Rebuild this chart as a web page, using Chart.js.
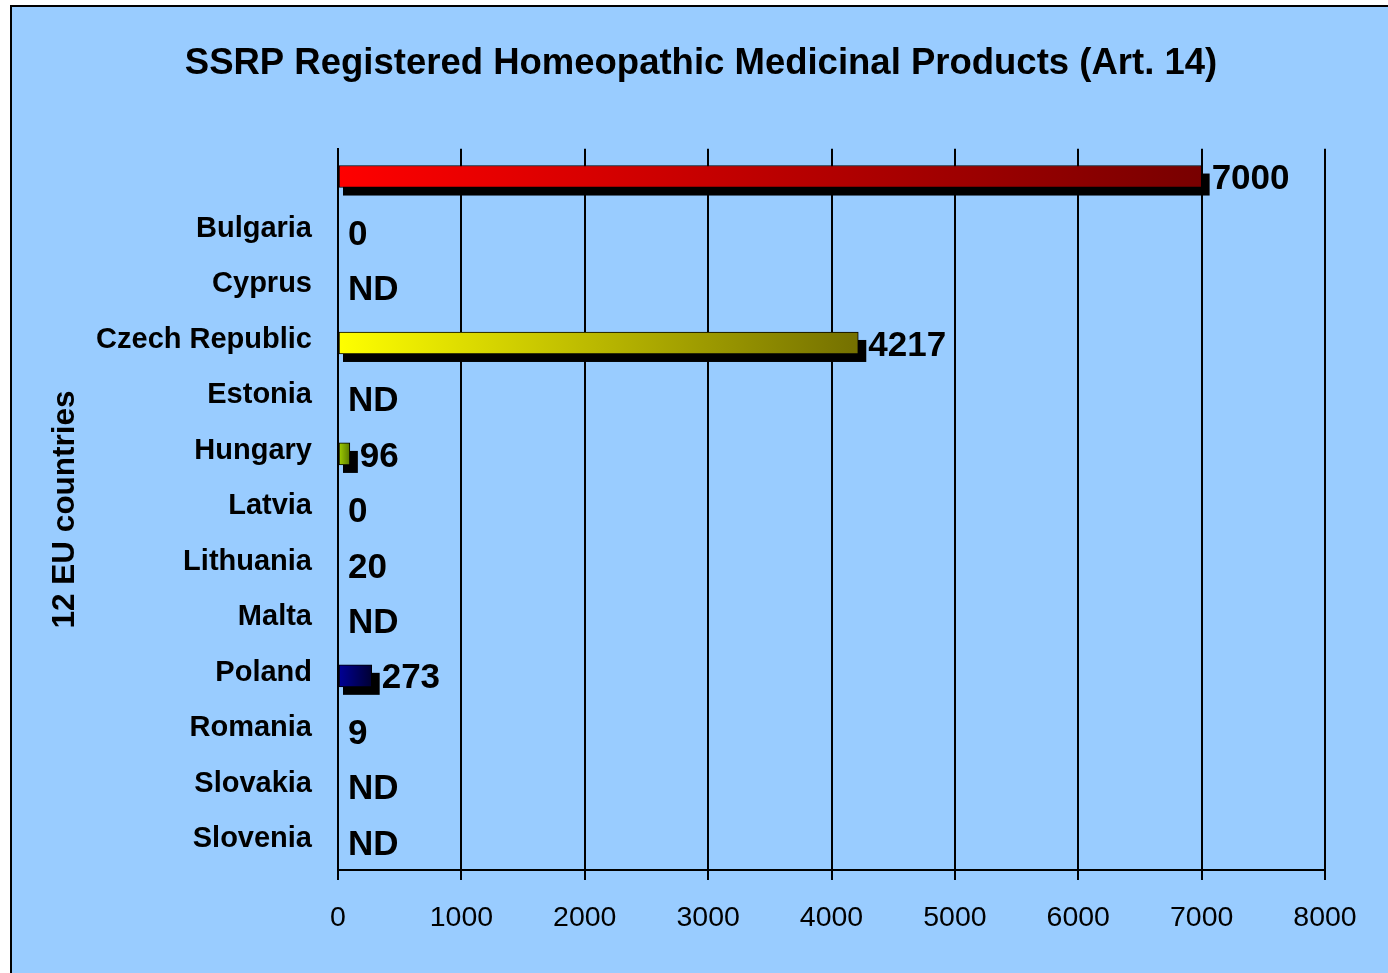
<!DOCTYPE html>
<html lang="en">
<head>
<meta charset="UTF-8">
<title>SSRP Registered Homeopathic Medicinal Products</title>
<script src="https://cdn.jsdelivr.net/npm/chart.js"></script>
<style>
  body { margin: 0; background: #fff; overflow: hidden; }
  /* panel with the black frame, runs past the window on the right and bottom */
  .frame {
    position: absolute;
    left: 10px;
    top: 5px;
    width: 1420px;
    height: 1010px;
    border: 2px solid #000;
    background: #99CCFF;
  }
  .wrap {
    position: absolute;
    left: 0;
    top: 0;
    width: 1388px;
    height: 973px;
  }
</style>
</head>
<body>
<div class="frame"></div>
<div class="wrap">
  <canvas id="chart"></canvas>
</div>
<script>
// data
const categories = ['', 'Bulgaria', 'Cyprus', 'Czech Republic', 'Estonia', 'Hungary', 'Latvia',
                    'Lithuania', 'Malta', 'Poland', 'Romania', 'Slovakia', 'Slovenia'];
const values = [7000, 0, null, 4217, null, 96, 0, 20, null, 273, 9, null, null];
const valueLabels = ['7000', '0', 'ND', '4217', 'ND', '96', '0', '20', 'ND', '273', '9', 'ND', 'ND'];
const xTickLabels = ['0', '1000', '2000', '3000', '4000', '5000', '6000', '7000', '8000'];

// gradient start/end per row, null = no coloured bar in the picture
const barColors = [
  ['#FF0000', '#780000'], null, null, ['#FFFF00', '#747000'], null, ['#A6D600', '#5A7A00'],
  null, null, null, ['#000099', '#000033'], null, null, null
];

const font = "'Liberation Sans', Arial, sans-serif";

function barGradient(ctx) {
  const c = barColors[ctx.dataIndex];
  if (!c) return 'rgba(0,0,0,0)';
  const chart = ctx.chart;
  const xs = chart.scales.x;
  if (!chart.chartArea || !xs) return c[0];
  const x0 = xs.getPixelForValue(0);
  const x1 = xs.getPixelForValue(values[ctx.dataIndex]);
  const g = chart.ctx.createLinearGradient(x0, 0, x1, 0);
  g.addColorStop(0, c[0]);
  g.addColorStop(1, c[1]);
  return g;
}

// black 3d-ish shadow behind each coloured bar
const shadowPlugin = {
  id: 'barShadow',
  beforeDatasetsDraw(chart) {
    const ctx = chart.ctx;
    const meta = chart.getDatasetMeta(0);
    ctx.save();
    ctx.fillStyle = '#000';
    meta.data.forEach((bar, i) => {
      if (!barColors[i] || values[i] == null) return;
      const p = bar.getProps(['x', 'y', 'base', 'height'], true);
      const top = p.y - p.height / 2 + 8;
      ctx.fillRect(p.base + 4, top, p.x + 8 - (p.base + 4), p.height);
    });
    ctx.restore();
  }
};

// value text right of every row
const valuePlugin = {
  id: 'valueText',
  afterDatasetsDraw(chart) {
    const ctx = chart.ctx;
    const xs = chart.scales.x;
    const ys = chart.scales.y;
    ctx.save();
    ctx.fillStyle = '#000';
    ctx.font = 'bold 35px ' + font;
    ctx.textAlign = 'left';
    ctx.textBaseline = 'middle';
    valueLabels.forEach((t, i) => {
      const v = barColors[i] && values[i] != null ? values[i] : 0;
      const x = xs.getPixelForValue(v) + 10;
      const y = ys.getPixelForValue(i) + 3;
      ctx.fillText(t, x, y);
    });
    ctx.restore();
  }
};

new Chart(document.getElementById('chart'), {
  type: 'bar',
  data: {
    labels: categories,
    datasets: [{
      data: values,
      backgroundColor: barGradient,
      borderColor: ctx => barColors[ctx.dataIndex] ? '#000' : 'rgba(0,0,0,0)',
      borderWidth: 1,
      borderSkipped: false,
      barThickness: 22
    }]
  },
  options: {
    indexAxis: 'y',
    responsive: true,
    maintainAspectRatio: false,
    animation: false,
    layout: { padding: { left: 14, right: 0, top: 0, bottom: 0 } },
    plugins: {
      legend: { display: false },
      tooltip: { enabled: false },
      title: {
        display: true,
        text: 'SSRP Registered Homeopathic Medicinal Products (Art. 14)',
        color: '#000',
        font: { family: font, size: 36.5, weight: 'bold' },
        padding: { top: 42, bottom: 63 }
      }
    },
    scales: {
      x: {
        min: 0,
        max: 8000,
        afterFit: s => { s.height = 103; },
        ticks: {
          stepSize: 1000,
          color: '#000',
          padding: 21,
          font: { family: font, size: 28.5 },
          callback: (v, i) => xTickLabels[i]
        },
        grid: { color: '#000', lineWidth: 2, tickLength: 10 },
        border: { display: true, color: '#000', width: 2 }
      },
      y: {
        afterFit: s => { s.width = 324; },
        ticks: {
          color: '#000',
          padding: 26,
          labelOffset: -3,
          font: { family: font, size: 29, weight: 'bold' }
        },
        grid: { drawOnChartArea: false, drawTicks: false },
        border: { display: true, color: '#000', width: 2 },
        title: {
          display: true,
          text: '12 EU countries',
          color: '#000',
          font: { family: font, size: 31.5, weight: 'bold' },
          padding: { top: 32, bottom: 0 }
        }
      },
      // empty right strip so the plot ends at 8000 like the picture
      yRight: {
        type: 'category',
        position: 'right',
        afterFit: s => { s.width = 63; },
        ticks: { display: false },
        grid: { display: false },
        border: { display: false }
      }
    }
  },
  plugins: [shadowPlugin, valuePlugin]
});
</script>
</body>
</html>
